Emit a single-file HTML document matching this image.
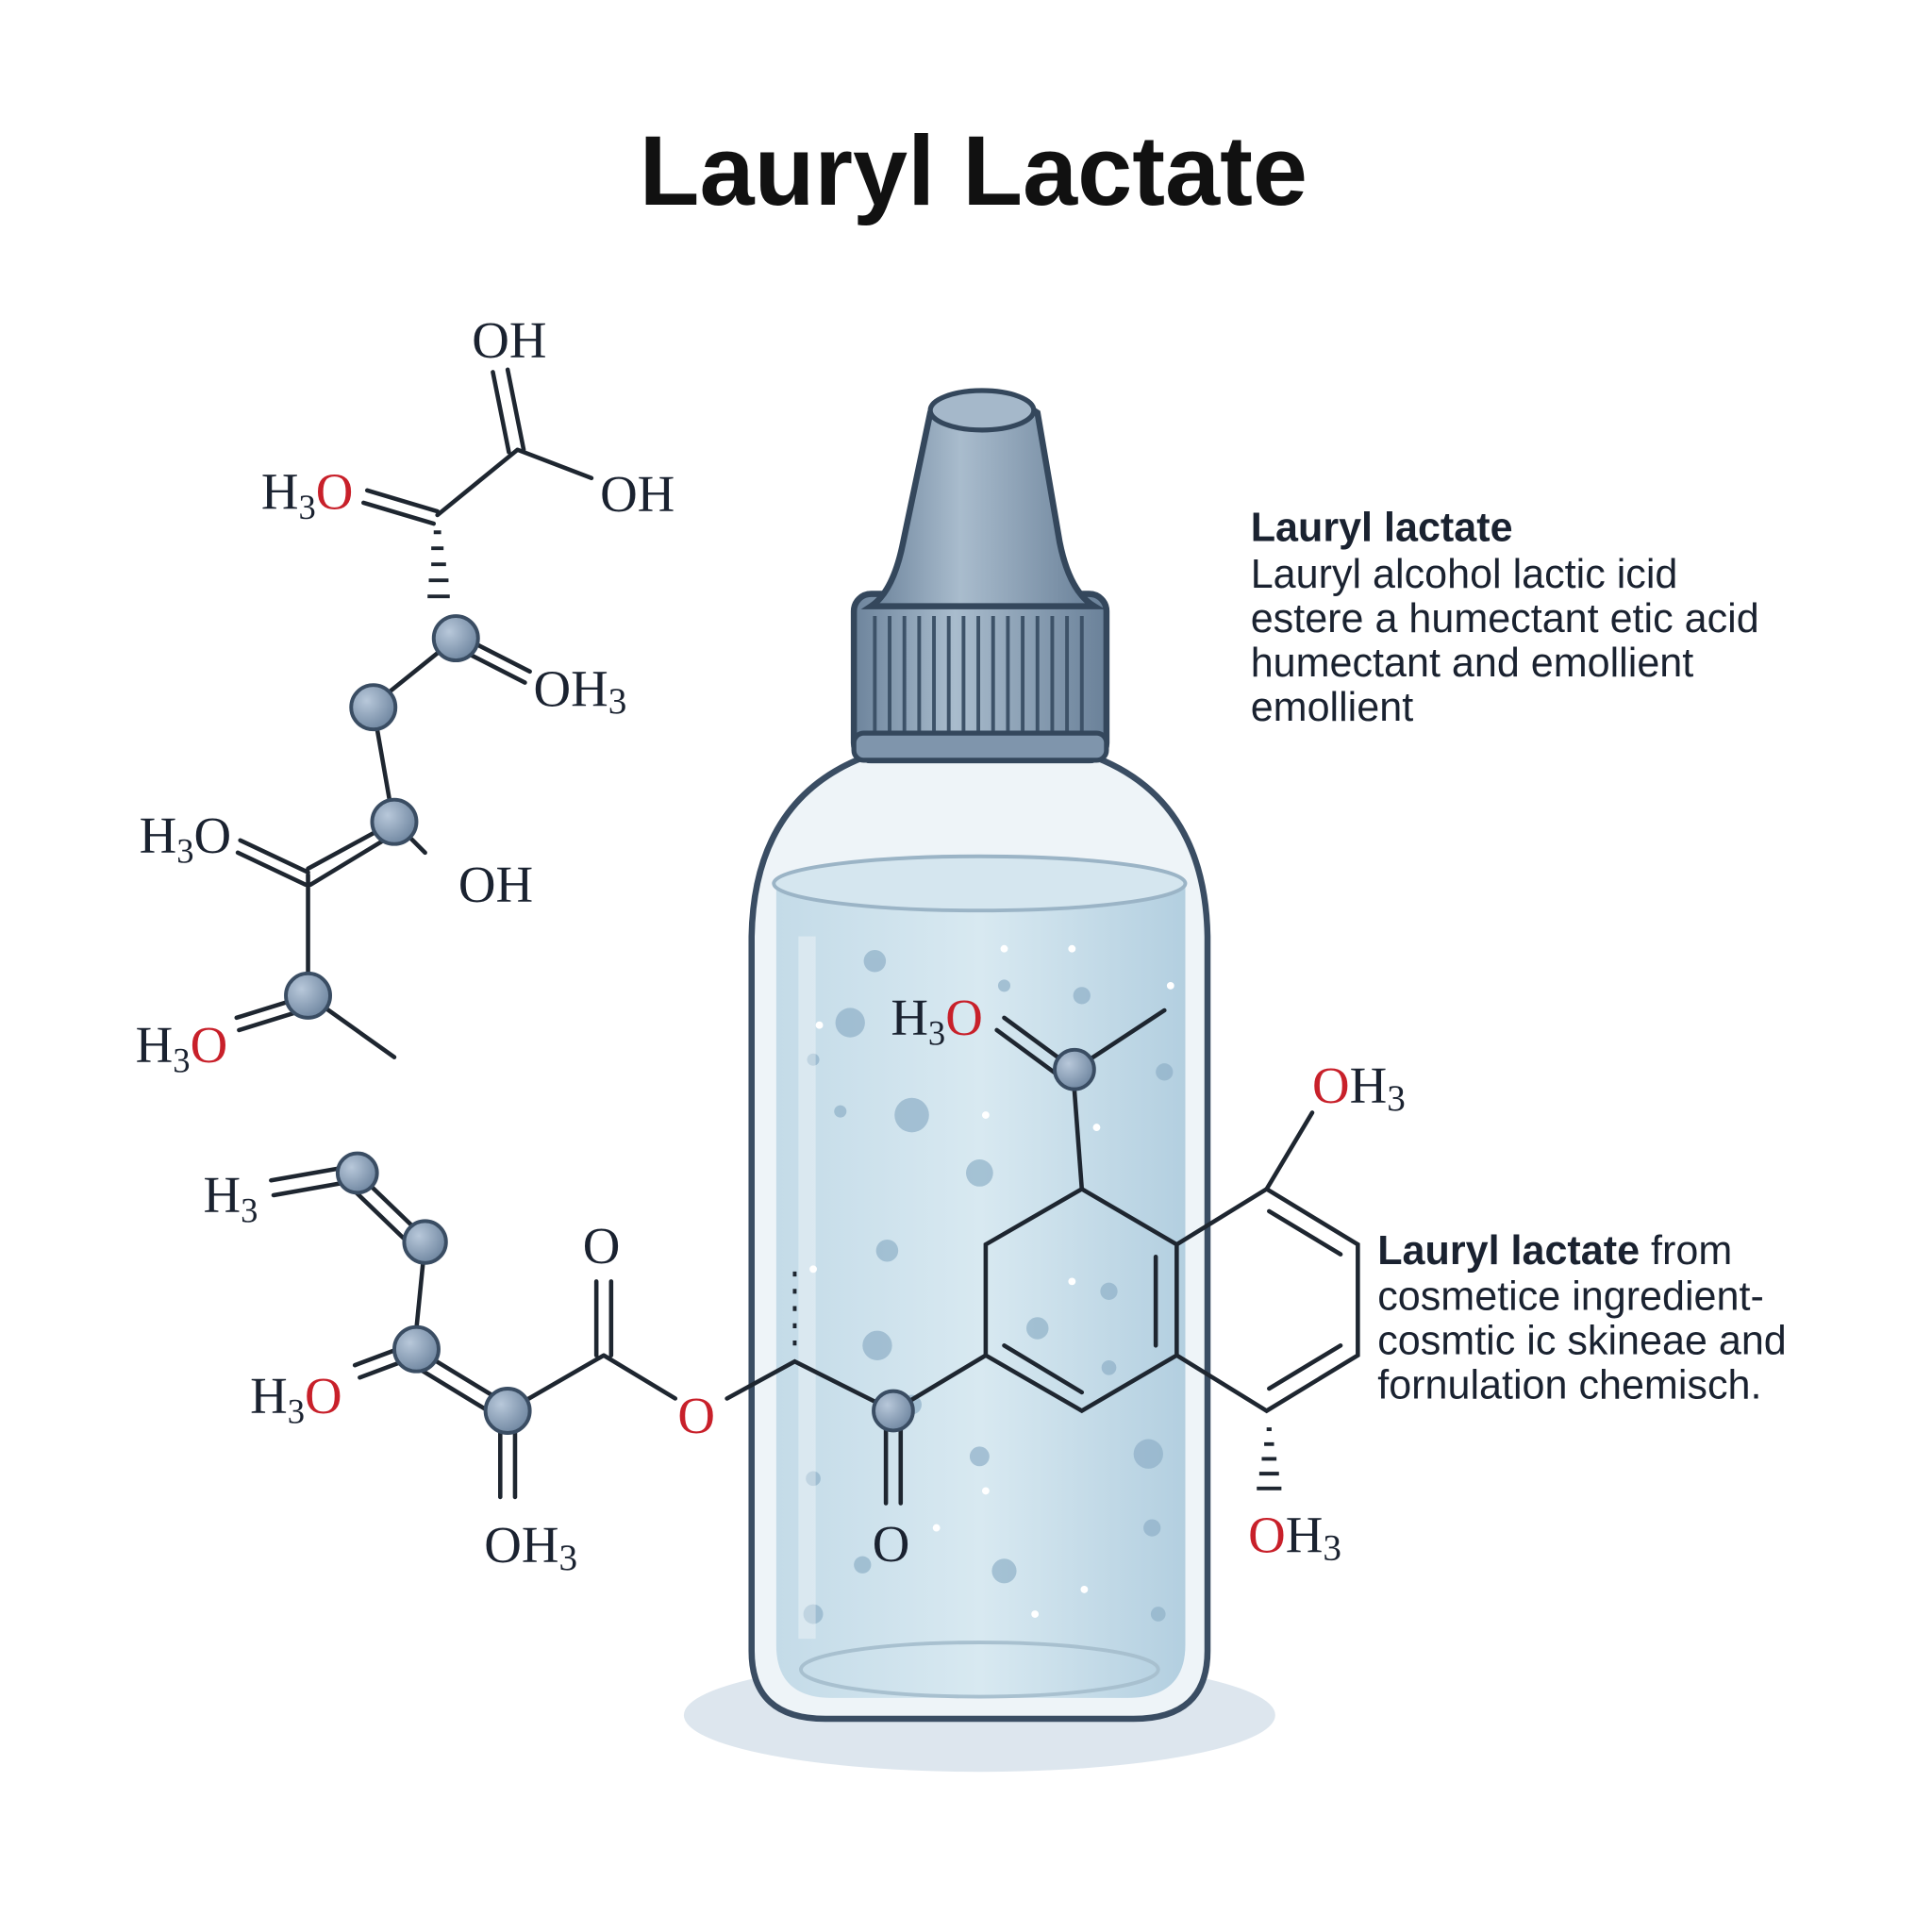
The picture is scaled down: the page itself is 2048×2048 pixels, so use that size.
<!DOCTYPE html>
<html><head><meta charset="utf-8"><style>
html,body{margin:0;padding:0;background:#fff}
svg{display:block}
.l{font-family:"Liberation Serif",serif;font-size:42px;fill:#1a2230}
.r{fill:#c8202a}
.t{font-family:"Liberation Sans",sans-serif;font-size:33px;fill:#1a2230}
.b{font-weight:bold}
</style></head><body>
<svg width="2048" height="2048" viewBox="0 0 1568 1568" xmlns="http://www.w3.org/2000/svg">
<defs>
<radialGradient id="at" cx="0.35" cy="0.35" r="0.7"><stop offset="0" stop-color="#b8c8da"/><stop offset="1" stop-color="#6f86a0"/></radialGradient>
<linearGradient id="liq" x1="0" x2="1"><stop offset="0" stop-color="#c4dbe8"/><stop offset="0.5" stop-color="#d8e9f1"/><stop offset="1" stop-color="#b3cfe0"/></linearGradient>
<linearGradient id="cap" x1="0" x2="1"><stop offset="0" stop-color="#6d849c"/><stop offset="0.4" stop-color="#a9bccd"/><stop offset="1" stop-color="#6a8199"/></linearGradient>
</defs>
<rect width="1568" height="1568" fill="#fff"/>
<text x="790" y="166" text-anchor="middle" font-family="Liberation Sans,sans-serif" font-weight="bold" font-size="80" fill="#111">Lauryl Lactate</text>

<ellipse cx="795" cy="1392" rx="240" ry="46" fill="#dde6ee"/>
<path d="M700 615 Q612 650 610 760 L610 1340 Q610 1395 670 1395 L920 1395 Q980 1395 980 1340 L980 760 Q978 650 890 615 Z" fill="#eef4f8" stroke="#3a4d63" stroke-width="5"/>
<path d="M630 715 Q795 690 962 715 L962 1335 Q962 1378 915 1378 L675 1378 Q630 1378 630 1335 Z" fill="url(#liq)"/>
<ellipse cx="795" cy="717" rx="167" ry="22" fill="#d5e6ef" stroke="#9bb4c6" stroke-width="3"/>
<ellipse cx="795" cy="1355" rx="145" ry="22" fill="none" stroke="#a8c0cf" stroke-width="3"/>
<g fill="#8fb0c8" opacity="0.7">
<circle cx="710" cy="780" r="9"/><circle cx="690" cy="830" r="12"/><circle cx="740" cy="905" r="14"/><circle cx="795" cy="952" r="11"/><circle cx="720" cy="1015" r="9"/><circle cx="842" cy="1078" r="9"/><circle cx="712" cy="1092" r="12"/><circle cx="795" cy="1182" r="8"/><circle cx="932" cy="1180" r="12"/><circle cx="815" cy="1275" r="10"/><circle cx="935" cy="1240" r="7"/><circle cx="660" cy="1200" r="6"/><circle cx="700" cy="1270" r="7"/><circle cx="660" cy="1310" r="8"/><circle cx="940" cy="1310" r="6"/><circle cx="900" cy="1048" r="7"/><circle cx="682" cy="902" r="5"/><circle cx="660" cy="860" r="5"/><circle cx="945" cy="870" r="7"/><circle cx="878" cy="808" r="7"/><circle cx="815" cy="800" r="5"/><circle cx="740" cy="1140" r="8"/><circle cx="900" cy="1110" r="6"/>
</g>
<g fill="#fff"><circle cx="815" cy="770" r="3"/><circle cx="870" cy="770" r="3"/><circle cx="950" cy="800" r="3"/><circle cx="665" cy="832" r="3"/><circle cx="800" cy="905" r="3"/><circle cx="890" cy="915" r="3"/><circle cx="660" cy="1030" r="3"/><circle cx="870" cy="1040" r="3"/><circle cx="800" cy="1210" r="3"/><circle cx="880" cy="1290" r="3"/><circle cx="840" cy="1310" r="3"/><circle cx="760" cy="1240" r="3"/></g>
<path d="M655 760 L655 1330" stroke="#fff" stroke-width="14" opacity="0.35"/>
<rect x="693" y="482" width="205" height="135" rx="14" fill="url(#cap)" stroke="#34475c" stroke-width="5"/>
<g stroke="#3d5268" stroke-width="3">
<path d="M710 500V600M722 500V600M734 500V600M746 500V600M758 500V600M770 500V600M782 500V600M794 500V600M806 500V600M818 500V600M830 500V600M842 500V600M854 500V600M866 500V600M878 500V600"/>
</g>
<rect x="693" y="595" width="205" height="22" rx="8" fill="#7f95ac" stroke="#34475c" stroke-width="4"/>
<path d="M755 335 Q798 305 842 335 L860 440 Q868 480 888 492 L707 492 Q725 480 733 440 Z" fill="url(#cap)" stroke="#34475c" stroke-width="5"/>
<ellipse cx="797" cy="333" rx="42" ry="16" fill="#a5b8ca" stroke="#34475c" stroke-width="4"/>

<g stroke="#1e2630" stroke-width="3.5" fill="none" stroke-linecap="round">
<path d="M400 302 L413 367 M412 300 L425 365"/>
<path d="M420 365 L480 388 M420 365 L355 418"/>
<path d="M298 398 L355 415 M295 408 L352 425"/>
<path d="M385 522 L430 545 M381 531 L426 554"/>
<path d="M370 518 L303 572 M303 574 L318 660"/>
<path d="M320 667 L345 692"/>
<path d="M320 667 L250 705 M318 678 L252 718 M195 682 L250 708 M193 692 L248 718"/>
<path d="M250 710 L250 795"/>
<path d="M250 808 L192 826 M252 818 L194 836 M250 808 L320 858"/>
<path d="M220 958 L288 946 M222 970 L290 958 M290 952 L345 1005 M283 962 L338 1015"/>
<path d="M345 1008 L338 1078"/>
<path d="M288 1108 L336 1090 M292 1118 L340 1100"/>
<path d="M338 1095 L412 1140 M332 1106 L406 1151"/>
<path d="M406 1150 L406 1215 M418 1150 L418 1215"/>
<path d="M412 1145 L490 1100 M484 1100 L484 1040 M496 1100 L496 1040 M490 1100 L548 1135"/>
<path d="M590 1135 L645 1105 L725 1145"/>
<path d="M719 1150 L719 1220 M731 1150 L731 1220"/>
<path d="M725 1145 L800 1100"/>
<path d="M800 1010 L878 965 L955 1010 L955 1100 L878 1145 L800 1100 Z"/>
<path d="M815 1092 L878 1130 M938 1020 L938 1092"/>
<path d="M955 1010 L1028 965 L1102 1010 L1102 1100 L1028 1145 L955 1100"/>
<path d="M1030 983 L1088 1018 M1030 1127 L1088 1092"/>
<path d="M1028 965 L1065 903"/>
<path d="M878 965 L872 885"/>
<path d="M872 868 L945 820 M872 868 L815 826 M866 878 L809 836"/>
</g>
<g stroke="#1e2630" stroke-width="3">
<path d="M352 432h6M350 445h10M350 458h12M348 471h16M347 484h18"/>
<path d="M645 1032v4M645 1046v4M645 1060v4M645 1074v4M645 1088v4"/>
<path d="M1028 1160h4M1026 1172h8M1024 1184h12M1022 1196h16M1020 1208h20"/>
</g>
<g fill="url(#at)" stroke="#3a4d63" stroke-width="3">
<circle cx="370" cy="518" r="18"/><circle cx="303" cy="574" r="18"/><circle cx="320" cy="667" r="18"/><circle cx="250" cy="808" r="18"/>
<circle cx="290" cy="952" r="16"/><circle cx="345" cy="1008" r="17"/><circle cx="338" cy="1095" r="18"/><circle cx="412" cy="1145" r="18"/><circle cx="725" cy="1145" r="16"/><circle cx="872" cy="868" r="16"/>
</g>

<text class="l" x="383" y="290">OH</text>
<text class="l" x="487" y="415">OH</text>
<text class="l" x="212" y="413">H<tspan font-size="28" dy="8">3</tspan><tspan class="r" dy="-8">O</tspan></text>
<text class="l" x="433" y="573">OH<tspan font-size="30" dy="6">3</tspan></text>
<text class="l" x="372" y="732">OH</text>
<text class="l" x="113" y="692">H<tspan font-size="28" dy="8">3</tspan><tspan dy="-8">O</tspan></text>
<text class="l" x="110" y="862">H<tspan font-size="28" dy="8">3</tspan><tspan class="r" dy="-8">O</tspan></text>
<text class="l" x="165" y="984">H<tspan font-size="28" dy="8">3</tspan></text>
<text class="l" x="203" y="1147">H<tspan font-size="28" dy="8">3</tspan><tspan class="r" dy="-8">O</tspan></text>
<text class="l" x="473" y="1025">O</text>
<text class="l r" x="550" y="1163">O</text>
<text class="l" x="393" y="1268">OH<tspan font-size="30" dy="6">3</tspan></text>
<text class="l" x="708" y="1267">O</text>
<text class="l" x="723" y="840">H<tspan font-size="28" dy="8">3</tspan><tspan class="r" dy="-8">O</tspan></text>
<text class="l" x="1065" y="895"><tspan class="r">O</tspan>H<tspan font-size="30" dy="6">3</tspan></text>
<text class="l" x="1013" y="1260"><tspan class="r">O</tspan>H<tspan font-size="30" dy="6">3</tspan></text>

<text class="t b" x="1015" y="439">Lauryl lactate</text>
<text class="t" x="1015" y="477">Lauryl alcohol lactic icid</text>
<text class="t" x="1015" y="513">estere a humectant etic acid</text>
<text class="t" x="1015" y="549">humectant and emollient</text>
<text class="t" x="1015" y="585">emollient</text>

<text class="t" x="1118" y="1026"><tspan class="b">Lauryl lactate</tspan> from</text>
<text class="t" x="1118" y="1063">cosmetice ingredient-</text>
<text class="t" x="1118" y="1099">cosmtic ic skineae and</text>
<text class="t" x="1118" y="1135">fornulation chemisch.</text>
</svg>
</body></html>
